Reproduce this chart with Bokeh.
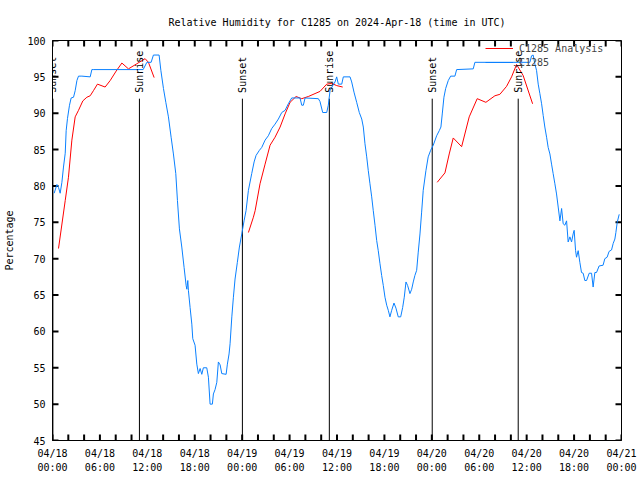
import numpy as np
from bokeh.plotting import figure
from bokeh.models import FixedTicker, Legend, LegendItem, Range1d, LabelSet, ColumnDataSource
from bokeh.embed import file_html
from bokeh.resources import INLINE
from bokeh.core.properties import value

TITLE = "Relative Humidity for C1285 on 2024-Apr-18 (time in UTC)"
Y_LABEL = "Percentage"
FONT = "DejaVu Sans Mono"

X_MIN, X_MAX = 0, 72          # hours since 2024-04-18 00:00 UTC
Y_MIN, Y_MAX = 45, 100

tick_hours = [0, 6, 12, 18, 24, 30, 36, 42, 48, 54, 60, 66, 72]
tick_labels = ["04/18\n00:00", "04/18\n06:00", "04/18\n12:00", "04/18\n18:00",
               "04/19\n00:00", "04/19\n06:00", "04/19\n12:00", "04/19\n18:00",
               "04/20\n00:00", "04/20\n06:00", "04/20\n12:00", "04/20\n18:00",
               "04/21\n00:00"]
minor_hours = list(range(0, 73, 2))
y_ticks = [45, 50, 55, 60, 65, 70, 75, 80, 85, 90, 95, 100]

sunset_hours = [0.05, 24.03, 48.05]
sunrise_hours = [11.0, 35.03, 58.93]
event_line_top = 92.0
event_label_y = 92.8

# Observed C1285 relative humidity
obs_hours = [0.21, 0.56, 0.76, 0.97, 1.19, 1.39, 1.61, 1.73, 1.90, 2.15, 2.36, 2.66, 2.87, 3.09,
             3.29, 3.72, 4.77, 4.98, 5.15, 11.47, 11.94, 12.48, 12.77, 13.49, 13.71, 14.04,
             14.34, 14.67, 15.01, 15.30, 15.60, 15.81, 16.06, 16.36, 16.65, 16.91, 17.00,
             17.12, 17.20, 17.41, 17.63, 17.75, 18.04, 18.26, 18.46, 18.68, 18.89, 19.09,
             19.52, 19.73, 19.94, 20.23, 20.36, 20.57, 20.79, 20.99, 21.21, 21.42, 21.97,
             22.13, 22.34, 22.47, 22.69, 22.89, 23.10, 23.39, 23.65, 23.95, 24.24, 24.49,
             24.79, 25.21, 25.51, 25.76, 26.18, 26.48, 26.90, 27.31, 27.74, 28.16, 28.58,
             29.01, 29.43, 29.84, 30.27, 31.32, 31.54, 31.74, 31.96, 33.64, 33.85, 34.19,
             34.70, 34.90, 35.12, 35.46, 35.75, 35.96, 36.17, 36.60, 36.80, 37.65, 37.86,
             38.15, 38.49, 38.82, 39.13, 39.33, 39.54, 39.76, 39.96, 40.17, 40.39, 40.59,
             40.81, 41.02, 41.22, 41.44, 41.65, 41.86, 42.07, 42.29, 42.49, 42.70, 42.92,
             43.21, 43.46, 43.75, 44.06, 44.31, 44.51, 44.73, 44.94, 45.23, 45.45, 45.65,
             45.86, 46.08, 46.28, 46.50, 46.71, 46.91, 47.25, 47.54, 47.85, 48.18, 48.61,
             48.94, 49.15, 49.32, 49.53, 49.75, 50.08, 50.38, 50.92, 51.14, 53.24, 53.45,
             60.41, 60.62, 60.82, 61.03, 61.25, 61.46, 61.67, 61.89, 62.09, 62.30, 62.52,
             62.72, 62.94, 63.15, 63.35, 63.57, 63.78, 63.99, 64.21, 64.42, 64.62, 64.83,
             65.05, 65.25, 65.47, 65.68, 65.88, 66.01, 66.19, 66.31, 66.52, 66.73, 66.94,
             67.15, 67.36, 67.58, 67.91, 68.21, 68.41, 68.63, 68.84, 69.17, 69.67, 69.89,
             70.18, 70.43, 70.74, 70.95, 71.16, 71.29, 71.46, 71.71]
obs_rh = [79.0, 80.2, 79.8, 79.0, 80.5, 82.6, 84.5, 87.6, 89.3, 91.1, 92.1, 92.2, 93.1, 94.5,
          95.1, 95.1, 95.0, 96.0, 96.0, 96.0, 97.0, 97.0, 98.0, 98.0, 95.9, 93.4,
          91.5, 89.5, 86.7, 84.4, 81.7, 78.0, 74.1, 71.6, 68.8, 66.3, 65.8,
          67.0, 65.6, 63.3, 61.0, 59.0, 58.1, 55.5, 54.2, 54.9, 54.1, 55.0,
          55.0, 53.7, 50.0, 50.0, 51.4, 52.0, 53.0, 55.8, 55.4, 54.2, 54.1,
          55.5, 56.9, 58.3, 62.0, 64.7, 67.2, 69.5, 71.6, 73.4, 75.2, 76.6,
          79.4, 81.7, 83.3, 84.2, 84.9, 85.3, 86.3, 86.9, 87.9, 88.5, 89.2,
          90.1, 90.4, 91.3, 92.1, 92.1, 91.1, 91.1, 92.1, 92.0, 91.6, 90.1,
          90.1, 91.1, 93.1, 93.8, 94.3, 95.0, 94.0, 94.0, 95.0, 95.0, 94.3,
          92.9, 91.5, 90.1, 89.2, 88.1, 85.8, 84.0, 82.1, 80.3, 78.5, 76.6,
          74.6, 72.5, 71.1, 69.3, 67.7, 66.3, 64.7, 63.6, 62.9, 62.0, 62.9,
          63.9, 63.2, 62.0, 62.0, 63.3, 64.7, 66.8, 66.3, 65.2, 65.8, 66.8,
          67.7, 68.4, 70.9, 73.4, 76.4, 79.4, 82.1, 84.0, 84.9, 85.6, 86.9,
          87.6, 88.1, 89.9, 92.2, 93.4, 94.5, 95.1, 95.1, 96.0, 96.1, 97.0,
          97.0, 97.9, 98.0, 96.8, 95.9, 94.0, 92.7, 91.3, 89.7, 88.1, 86.7,
          85.3, 84.4, 83.0, 81.7, 80.3, 78.9, 77.1, 75.2, 76.9, 74.8, 74.6,
          75.2, 72.3, 73.0, 72.3, 73.4, 73.9, 71.1, 70.2, 71.1, 69.5, 68.1,
          68.0, 67.0, 67.0, 68.0, 68.0, 66.1, 68.1, 68.1, 69.0, 69.1, 70.0,
          70.2, 71.0, 71.2, 72.1, 72.7, 73.6, 75.0, 76.1]

# C1285 Analysis (three separate runs)
ana1_hours = [0.76, 1.61, 2.02, 2.45, 2.87, 3.29, 3.84, 4.35, 4.77, 5.18, 5.69, 6.66, 7.30,
              8.06, 8.78, 9.61, 10.67, 11.72, 12.14, 12.86]
ana1_rh = [71.4, 78.0, 81.2, 86.3, 89.5, 90.4, 91.7, 92.2, 92.4, 93.1, 94.0, 93.6, 94.5,
           95.8, 96.9, 96.1, 96.8, 97.5, 97.0, 94.9]
ana2_hours = [24.79, 25.42, 25.64, 26.26, 26.90, 27.53, 28.16, 28.80, 29.43, 30.06, 30.82,
              31.54, 32.37, 33.22, 33.85, 34.70, 35.33, 35.96, 36.72]
ana2_rh = [73.6, 75.7, 76.6, 80.3, 83.0, 85.6, 86.7, 88.1, 89.9, 91.5, 92.3,
           92.0, 92.3, 92.7, 93.0, 94.0, 94.1, 93.8, 93.6]
ana3_hours = [48.68, 49.66, 50.20, 50.71, 51.77, 52.73, 53.74, 54.84, 55.98, 56.61, 57.46,
              58.09, 58.72, 59.55, 60.75]
ana3_rh = [80.5, 81.8, 84.4, 86.6, 85.4, 89.5, 92.0, 91.5, 92.4, 92.6, 93.7,
           95.0, 96.7, 95.2, 91.3]

ana_hours = ana1_hours + [np.nan] + ana2_hours + [np.nan] + ana3_hours
ana_rh = ana1_rh + [np.nan] + ana2_rh + [np.nan] + ana3_rh

RED = "#ff0000"
BLUE = "#0a80ff"
FRAME_W, FRAME_H = 569, 400
TICK_PX = 6

p = figure(frame_width=FRAME_W, frame_height=FRAME_H,
           x_range=Range1d(X_MIN, X_MAX), y_range=Range1d(Y_MIN, Y_MAX),
           output_backend="svg", toolbar_location=None,
           min_border_left=52, min_border_right=19, min_border_top=40, min_border_bottom=40,
           title=TITLE)
p.background_fill_color = "white"
p.border_fill_color = "white"
p.outline_line_color = "black"
p.outline_line_width = 1
p.xgrid.visible = False
p.ygrid.visible = False

p.title.text_font = FONT
p.title.text_font_size = "10px"
p.title.text_font_style = "normal"
p.title.align = "center"
p.title.text_color = "black"
p.title.standoff = 26

for ax in (p.xaxis[0], p.yaxis[0]):
    ax.major_tick_in = 0
    ax.major_tick_out = 0
    ax.minor_tick_in = 0
    ax.minor_tick_out = 0
    ax.axis_line_color = "black"
    ax.major_label_text_font = FONT
    ax.major_label_text_font_size = "10px"
    ax.major_label_text_color = "black"
    ax.axis_label_text_font = FONT
    ax.axis_label_text_font_size = "10px"
    ax.axis_label_text_font_style = "normal"
    ax.axis_label_text_color = "black"

xax = p.xaxis[0]
xax.ticker = FixedTicker(ticks=tick_hours, minor_ticks=minor_hours)
xax.major_label_overrides = {h: lab for h, lab in zip(tick_hours, tick_labels)}
xax.major_label_standoff = 7
xax.major_label_text_line_height = 1.35

yax = p.yaxis[0]
yax.ticker = FixedTicker(ticks=y_ticks, minor_ticks=[])
yax.axis_label = Y_LABEL
yax.major_label_standoff = 7
yax.axis_label_standoff = 9

# inward tick marks on all four sides (gnuplot style), TICK_PX pixels long
dy = TICK_PX * (Y_MAX - Y_MIN) / FRAME_H
dx = TICK_PX * (X_MAX - X_MIN) / FRAME_W
tick_x0 = minor_hours * 2 + [X_MIN] * len(y_ticks) + [X_MAX] * len(y_ticks)
tick_x1 = minor_hours * 2 + [X_MIN + dx] * len(y_ticks) + [X_MAX - dx] * len(y_ticks)
tick_y0 = [Y_MIN] * len(minor_hours) + [Y_MAX] * len(minor_hours) + y_ticks * 2
tick_y1 = [Y_MIN + dy] * len(minor_hours) + [Y_MAX - dy] * len(minor_hours) + y_ticks * 2
tick_src = ColumnDataSource(dict(x0=tick_x0, y0=tick_y0, x1=tick_x1, y1=tick_y1))
p.segment(x0="x0", y0="y0", x1="x1", y1="y1", source=tick_src,
          line_color="black", line_width=2, line_cap="butt")

# Sunrise / Sunset markers
ev_hours = sunset_hours + sunrise_hours
ev_names = ["Sunset"] * len(sunset_hours) + ["Sunrise"] * len(sunrise_hours)
p.segment(x0=ev_hours, y0=[event_line_top] * len(ev_hours),
          x1=ev_hours, y1=[Y_MIN] * len(ev_hours), line_color="black", line_width=1)
ev_src = ColumnDataSource(dict(x=ev_hours, y=[event_label_y] * len(ev_hours), text=ev_names))
p.add_layout(LabelSet(x="x", y="y", text="text", source=ev_src, angle=np.pi / 2,
                      text_align="left", text_baseline="middle", text_font=value(FONT),
                      text_font_size=value("10px"), text_color="black"))

r_ana = p.line(ana_hours, ana_rh, line_color=RED, line_width=1)
r_obs = p.line(obs_hours, obs_rh, line_color=BLUE, line_width=1)

legend = Legend(items=[LegendItem(label="C1285 Analysis", renderers=[r_ana]),
                       LegendItem(label="C1285", renderers=[r_obs])],
                location=(433, 372), border_line_color=None, background_fill_alpha=0,
                label_text_font=FONT, label_text_font_size="10px",
                glyph_width=28, glyph_height=12, label_height=12, spacing=2,
                padding=2, margin=0, label_standoff=6)
p.add_layout(legend)

open("out.html", "w").write(file_html(p, INLINE))
